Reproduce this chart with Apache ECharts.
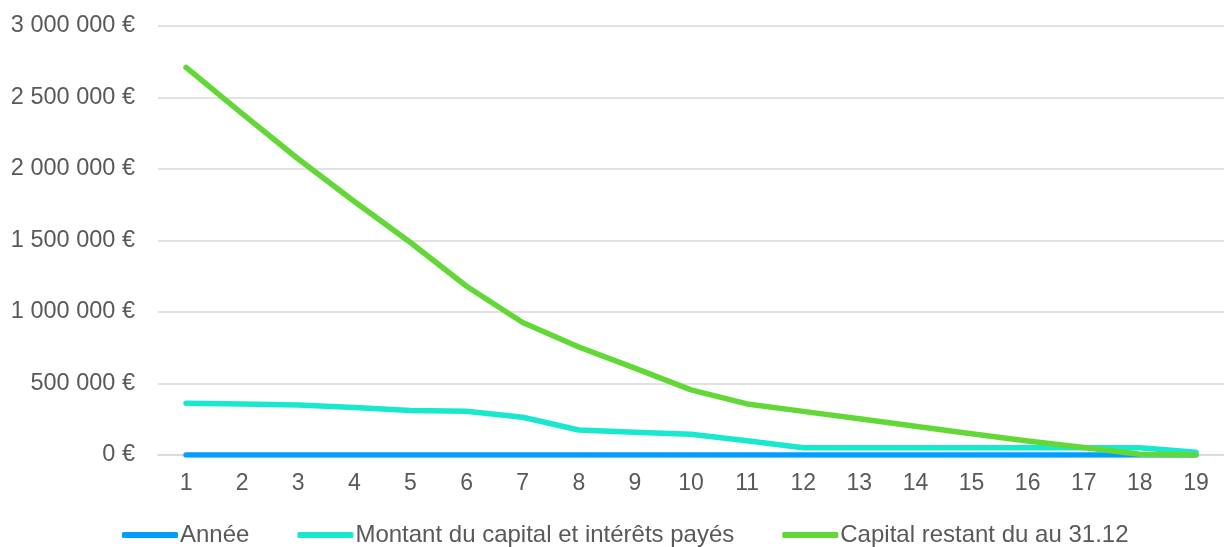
<!DOCTYPE html>
<html>
<head>
<meta charset="utf-8">
<title>Capital restant</title>
<script src="https://cdn.jsdelivr.net/npm/echarts@6/dist/echarts.min.js"></script>
<style>
    html, body { margin: 0; padding: 0; background: #fff; }
    #chart { width: 1224px; height: 547px; }
</style>
</head>
<body>
<div id="chart"></div>
<script>
    // données
    const annees = ['1','2','3','4','5','6','7','8','9','10','11','12','13','14','15','16','17','18','19'];
    const serieAnnee = [1,2,3,4,5,6,7,8,9,10,11,12,13,14,15,16,17,18,19];
    const montantPaye = [362000,357000,350000,332000,311000,306000,264000,175000,159000,145000,100000,51000,51000,51000,51000,51000,51000,51000,19000];
    const capitalRestant = [2710000,2388000,2070000,1773000,1486000,1180000,927000,755000,608000,455000,357000,305000,253000,201000,149000,98000,52000,5000,0];
    const nomsSeries = ['Année', 'Montant du capital et intérêts payés', 'Capital restant du au 31.12'];

    const police = 'Liberation Sans, Arial, sans-serif';
    const gris = '#595959';

    function euro(v) {
        return String(v).replace(/\B(?=(\d{3})+(?!\d))/g, ' ') + ' €';
    }

    let myChart = echarts.init(document.getElementById('chart'));
    let option = {
        animation: false,
        textStyle: { fontFamily: police },
        grid: { left: 158, right: -2, top: 26, bottom: 92 },
        legend: {
            left: 117,
            top: 518,
            icon: 'roundRect',
            itemWidth: 56,
            itemHeight: 6,
            itemGap: 48,
            textStyle: { fontSize: 24, color: gris, fontFamily: police, padding: [0, 0, 0, -3] },
            data: nomsSeries
        },
        xAxis: {
            type: 'category',
            data: annees,
            boundaryGap: true,
            axisLine: { lineStyle: { color: '#D9D9D9', width: 1.5 } },
            axisTick: { show: false },
            axisLabel: { fontSize: 23, color: gris, margin: 17, fontFamily: police }
        },
        yAxis: {
            type: 'value',
            min: 0,
            max: 3000000,
            interval: 500000,
            axisLine: { show: false },
            axisTick: { show: false },
            splitLine: { lineStyle: { color: '#D9D9D9', width: 1.5 } },
            axisLabel: { fontSize: 23.5, color: gris, margin: 23, fontFamily: police, formatter: euro }
        },
        series: [
            {
                name: nomsSeries[0], type: 'line', data: serieAnnee,
                showSymbol: false, color: '#009FFF',
                lineStyle: { width: 5.5, cap: 'round', join: 'round' }
            },
            {
                name: nomsSeries[1], type: 'line', data: montantPaye,
                showSymbol: false, color: '#17E8CF',
                lineStyle: { width: 5.5, cap: 'round', join: 'round' }
            },
            {
                name: nomsSeries[2], type: 'line', data: capitalRestant,
                showSymbol: false, color: '#61D836',
                lineStyle: { width: 5.5, cap: 'round', join: 'round' }
            }
        ]
    };
    myChart.setOption(option);
</script>
</body>
</html>
